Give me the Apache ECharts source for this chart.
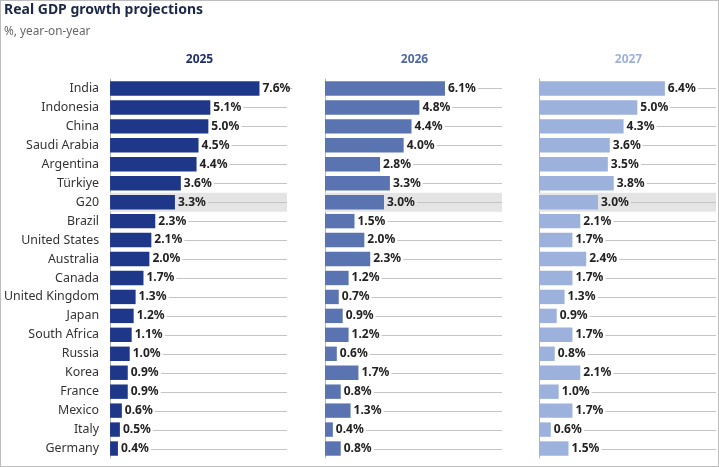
<!DOCTYPE html>
<html><head><meta charset="utf-8">
<script src="https://cdn.jsdelivr.net/npm/echarts@6/dist/echarts.min.js"></script>
<style>
html,body{margin:0;padding:0;background:#fff;}
#c{width:717px;height:465px;border:1px solid #bdbdbd;}
</style></head>
<body><div id="c"></div>
<script>
const categories = ["India","Indonesia","China","Saudi Arabia","Argentina","Türkiye","G20","Brazil","United States","Australia","Canada","United Kingdom","Japan","South Africa","Russia","Korea","France","Mexico","Italy","Germany"];
const years = ["2025","2026","2027"];
const values2025 = [7.6,5.1,5.0,4.5,4.4,3.6,3.3,2.3,2.1,2.0,1.7,1.3,1.2,1.1,1.0,0.9,0.9,0.6,0.5,0.4];
const values2026 = [6.1,4.8,4.4,4.0,2.8,3.3,3.0,1.5,2.0,2.3,1.2,0.7,0.9,1.2,0.6,1.7,0.8,1.3,0.4,0.8];
const values2027 = [6.4,5.0,4.3,3.6,3.5,3.8,3.0,2.1,1.7,2.4,1.7,1.3,0.9,1.7,0.8,2.1,1.0,1.7,0.6,1.5];
const seriesValues = [values2025, values2026, values2027];
const highlight = "G20";
const xMax = 9;

const barColors = ["#1f3788","#5a74b2","#9cb1dc"];
const headColors = ["#1d2f6f","#4e69a6","#9db1d9"];
const panelLefts = [109, 324, 538];
const panelW = 177, gridTop = 78, gridH = 379;
const font = "'Noto Sans', 'Open Sans', sans-serif";

const chart = echarts.init(document.getElementById('c'), null, {renderer:'canvas'});

const grids = [], xAxes = [], yAxes = [], series = [], graphics = [];
years.forEach((y, k) => {
  grids.push({left: panelLefts[k], top: gridTop, width: panelW, height: gridH, containLabel:false});
  xAxes.push({type:'value', gridIndex:k, min:0, max:xMax, show:false});
  yAxes.push({type:'category', gridIndex:k, data:categories, inverse:true,
    axisLine:{show:true, lineStyle:{color:'#b5b5b5', width:1}},
    axisTick:{show:false},
    axisLabel:{show:k===0, color:'#333', fontFamily:font, fontSize:12.4, margin:11},
    splitLine:{show:false}});
  const vals = seriesValues[k];
  series.push({
    type:'custom', xAxisIndex:k, yAxisIndex:k, z:1, silent:true,
    data: categories.map((c,i)=>[vals[i], i]),
    renderItem: function(params, api){
      const i = api.value(1);
      const p0 = api.coord([0, i]);
      const pv = api.coord([api.value(0), i]);
      const p1 = api.coord([xMax, i]);
      const bh = api.size([0,1])[1];
      const children = [];
      if (categories[i] === highlight) {
        children.push({type:'rect', shape:{x:p0[0], y:p0[1]-bh/2, width:p1[0]-p0[0], height:bh}, style:{fill:'#e4e4e4'}});
      }
      const yy = Math.round(p0[1]) + 0.5;
      children.push({type:'line', shape:{x1:pv[0]+33, y1:yy, x2:p1[0], y2:yy}, style:{stroke:'#c4c4c4', lineWidth:1}});
      return {type:'group', children:children};
    }
  });
  series.push({
    type:'bar', xAxisIndex:k, yAxisIndex:k, z:2, data: vals,
    barCategoryGap:'24%',
    itemStyle:{color:barColors[k]},
    label:{show:true, position:'right', distance:3, color:'#222', fontFamily:font, fontSize:12, fontWeight:'bold',
      formatter: p => p.value.toFixed(1) + '%'}
  });
  graphics.push({type:'text', x: panelLefts[k] + panelW/2 + 1, y: 59,
    style:{text:y, fill:headColors[k], font:'bold 12px ' + font, textAlign:'center', textVerticalAlign:'middle'}});
});

chart.setOption({
  animation:false,
  title:{text:'Real GDP growth projections', subtext:'%, year-on-year', left:3, top:2, padding:0,
    textStyle:{fontFamily:font, fontSize:14, fontWeight:'bold', color:'#1b2848'},
    subtextStyle:{fontFamily:font, fontSize:11.8, color:'#666'}, itemGap:9},
  grid:grids, xAxis:xAxes, yAxis:yAxes, series:series, graphic:graphics
});
</script></body></html>
